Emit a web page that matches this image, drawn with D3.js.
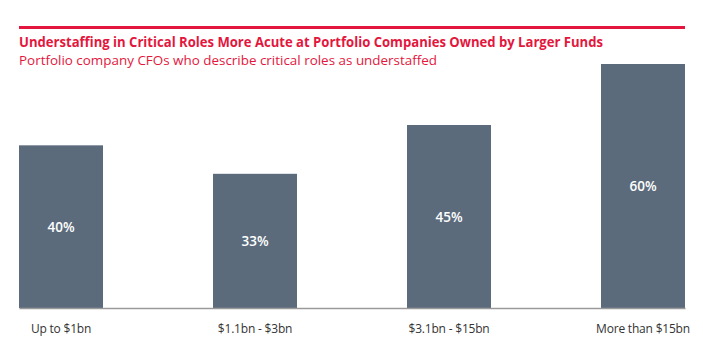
<!DOCTYPE html>
<html>
<head>
<meta charset="utf-8">
<script src="https://cdn.jsdelivr.net/npm/d3@7/dist/d3.min.js"></script>
<style>
  html, body { margin: 0; padding: 0; background: #fff; }
  svg { display: block; }
</style>
</head>
<body>
<svg id="chart" width="703" height="358"></svg>
<script>
const title = "Understaffing in Critical Roles More Acute at Portfolio Companies Owned by Larger Funds";
const subtitle = "Portfolio company CFOs who describe critical roles as understaffed";
const categories = ["Up to $1bn", "$1.1bn - $3bn", "$3.1bn - $15bn", "More than $15bn"];
const values = [40, 33, 45, 60];
const valueLabels = ["40%", "33%", "45%", "60%"];

const svg = d3.select("#chart");
const red = "#e3173e";
const barColor = "#5b6b7c";

// top rule
svg.append("line")
  .attr("x1", 19).attr("x2", 685)
  .attr("y1", 27.5).attr("y2", 27.5)
  .attr("stroke", red).attr("stroke-width", 3);

svg.append("text")
  .attr("x", 19).attr("y", 47)
  .attr("fill", red)
  .attr("font-family", "'Open Sans', sans-serif")
  .attr("font-weight", 700)
  .attr("font-size", 14)
  .attr("textLength", 584)
  .attr("lengthAdjust", "spacingAndGlyphs")
  .text(title);

svg.append("text")
  .attr("x", 19).attr("y", 65)
  .attr("fill", red)
  .attr("font-family", "'Open Sans', sans-serif")
  .attr("font-weight", 500)
  .attr("font-size", 13.2)
  .attr("textLength", 418)
  .attr("lengthAdjust", "spacingAndGlyphs")
  .text(subtitle);

const x = d3.scaleBand()
  .domain(categories)
  .range([19, 685])
  .paddingInner(0.567)
  .paddingOuter(0);

const y = d3.scaleLinear()
  .domain([0, 60])
  .range([308, 64]);

const g = svg.append("g");

g.selectAll("rect.bar")
  .data(values)
  .join("rect")
  .attr("class", "bar")
  .attr("x", (d, i) => x(categories[i]))
  .attr("width", x.bandwidth())
  .attr("y", d => y(d))
  .attr("height", d => y(0) - y(d))
  .attr("fill", barColor);

// baseline axis
const axis = d3.axisBottom(x).tickSize(0).tickPadding(0);
const ax = svg.append("g")
  .attr("transform", `translate(0,${y(0)})`)
  .call(axis);
ax.select(".domain")
  .attr("stroke", "#9a9a9a")
  .attr("stroke-width", 1.5);
ax.selectAll(".tick text")
  .attr("dy", null)
  .attr("y", 25.3)
  .attr("fill", "#333")
  .attr("font-family", "'Open Sans', sans-serif")
  .attr("font-size", 12)
  .style("letter-spacing", "-0.2px");

// value labels
g.selectAll("text.val")
  .data(values)
  .join("text")
  .attr("class", "val")
  .attr("x", (d, i) => x(categories[i]) + x.bandwidth() / 2)
  .attr("y", d => (y(d) + y(0)) / 2 + 5)
  .attr("text-anchor", "middle")
  .attr("fill", "#fff")
  .attr("font-family", "'Open Sans', sans-serif")
  .attr("font-weight", 600)
  .attr("font-size", 13.5)
  .text((d, i) => valueLabels[i]);
</script>
</body>
</html>
